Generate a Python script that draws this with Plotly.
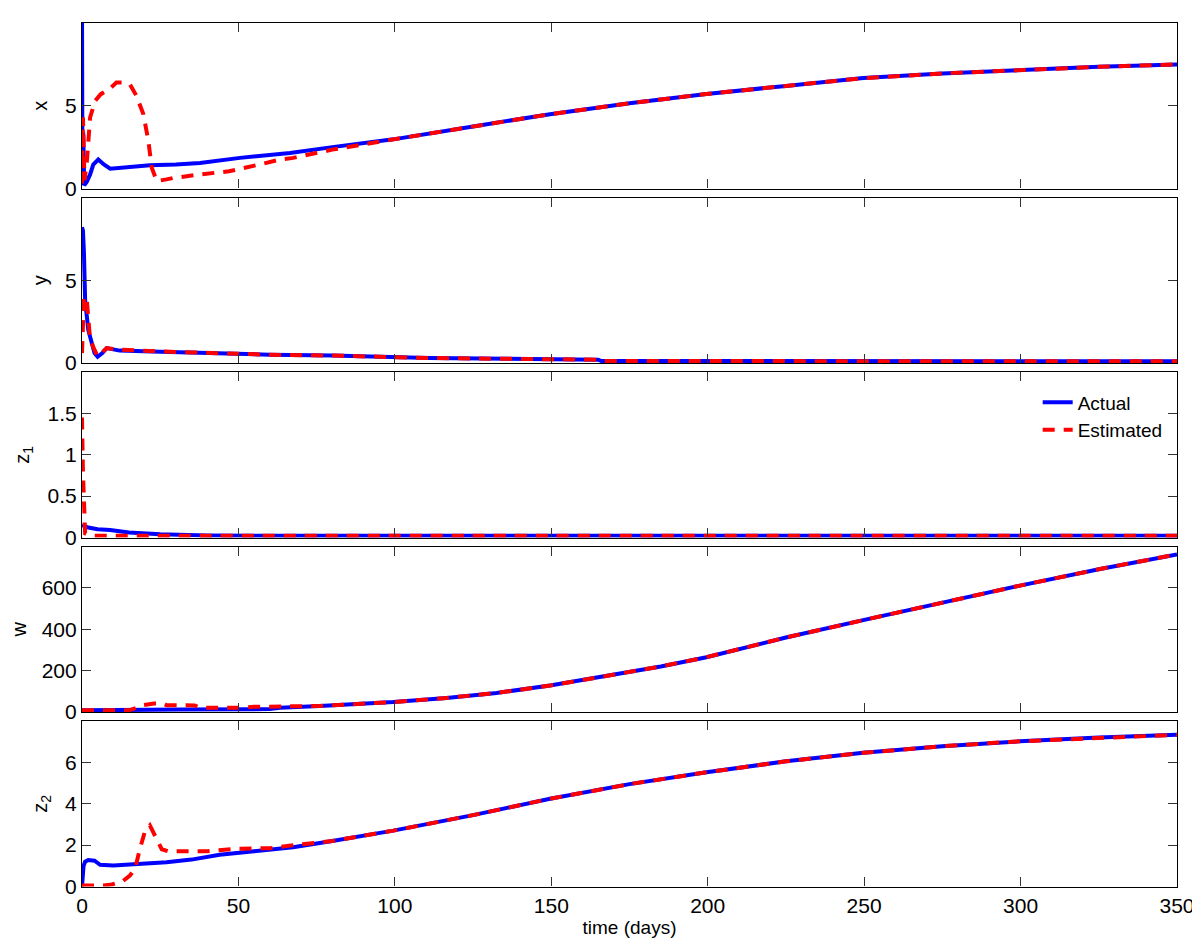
import plotly.graph_objects as go
from plotly.subplots import make_subplots

# --- datos ---
# panel x
t_x_act = [0, 0.15, 0.4, 0.7, 1.5, 2.6, 3.6, 5.2, 7, 9, 15, 21.7, 30, 37.7, 50.5, 63.3,
           66.5, 80, 99.5, 125, 149.6, 175, 199.6, 225, 249.7, 275, 299.8, 325, 350]
x_act = [11, 0.2, 3.4, 0.2, 0.4, 0.85, 1.44, 1.75, 1.45, 1.2, 1.3, 1.4, 1.45, 1.54, 1.85, 2.05,
         2.15, 2.5, 2.97, 3.75, 4.49, 5.15, 5.71, 6.2, 6.67, 6.95, 7.17, 7.35, 7.5]
t_x_est = [0, 0.3, 0.8, 1.5, 2.6, 3.6, 4.2, 6, 8.7, 11, 13, 15.3, 17.4, 19.6, 21.2, 22.3, 23.9,
           27, 29, 37.7, 47, 57, 63.3, 67.5, 80, 99.5, 125, 149.6, 175, 199.6, 225, 249.7,
           275, 299.8, 325, 350]
x_est = [0.3, 4.3, 0.5, 1.5, 4.3, 4.9, 5.3, 5.7, 6.0, 6.4, 6.4, 6.3, 5.6, 4.5, 2.9, 1.25, 0.45,
         0.55, 0.63, 0.85, 1.04, 1.46, 1.75, 1.85, 2.35, 2.97, 3.75, 4.49, 5.15, 5.71, 6.2, 6.67,
         6.95, 7.17, 7.35, 7.5]

# panel y
t_y_act = [0, 0.3, 0.6, 1.0, 2.0, 3.0, 4.0, 5.0, 6.5, 7.9, 12, 25, 40, 60, 80, 110, 111,
           165, 166, 350]
y_act = [8.2, 8.0, 6.8, 3.8, 2.0, 1.3, 0.6, 0.38, 0.6, 0.9, 0.75, 0.68, 0.6, 0.5, 0.45, 0.35,
         0.3, 0.2, 0.12, 0.1]
t_y_est = [0, 0.3, 0.6, 1.5, 2.5, 3.5, 5, 7.9, 12, 25, 40, 60, 80, 110, 111, 165, 166, 350]
y_est = [0.6, 4.0, 4.0, 3.9, 1.6, 1.0, 0.4, 0.9, 0.8, 0.7, 0.6, 0.5, 0.45, 0.35, 0.3, 0.2,
         0.12, 0.1]

# panel z1
t_z1_act = [0, 2, 5, 9, 15, 25, 40, 60, 350]
z1_act = [0.15, 0.12, 0.1, 0.09, 0.06, 0.04, 0.025, 0.02, 0.02]
t_z1_est = [0, 0.3, 1, 3, 350]
z1_est = [1.45, 0.8, 0.05, 0.02, 0.02]

# panel w
t_w_act = [0, 30, 32, 60, 63.3, 76, 99.5, 116.5, 132.5, 149.6, 169.8, 185, 199.6, 225,
           249.7, 275, 299.8, 325, 350]
w_act = [8, 8, 12, 14, 20, 29, 48, 68, 92, 128, 180, 220, 265, 360, 444, 530, 611, 690, 762]
t_w_est = [0, 15, 17.4, 19.6, 23, 26, 27, 36, 38, 50, 55, 63.3, 76, 99.5, 116.5, 132.5,
           149.6, 169.8, 185, 199.6, 225, 249.7, 275, 299.8, 325, 350]
w_est = [8, 8, 20, 33, 41, 40, 33, 32, 20, 20, 25, 25, 29, 48, 68, 92, 128, 180, 220, 265,
         360, 444, 530, 611, 690, 762]

# panel z2
t_z2_act = [0, 0.5, 1, 2, 4, 5.8, 10, 15, 20, 27, 35, 44, 55, 67.5, 80, 99.5, 125, 149.6,
            175, 199.6, 225, 249.7, 275, 299.8, 325, 350]
z2_act = [0, 1.0, 1.2, 1.28, 1.25, 1.05, 1.02, 1.05, 1.1, 1.17, 1.3, 1.53, 1.7, 1.9, 2.2,
          2.7, 3.45, 4.24, 4.95, 5.52, 6.05, 6.46, 6.78, 7.02, 7.2, 7.33]
t_z2_est = [0, 7, 9.5, 13, 15.3, 17, 18.5, 20, 21.7, 23.9, 25.5, 27.5, 40, 50, 60, 67.5, 80,
            99.5, 125, 149.6, 175, 199.6, 225, 249.7, 275, 299.8, 325, 350]
z2_est = [0.05, 0.05, 0.1, 0.25, 0.53, 0.87, 1.82, 2.6, 2.95, 2.3, 1.8, 1.7, 1.7, 1.83, 1.85,
          2.0, 2.2, 2.7, 3.45, 4.24, 4.95, 5.52, 6.05, 6.46, 6.78, 7.02, 7.2, 7.33]

panels = [
    ('x', t_x_act, x_act, t_x_est, x_est, [0, 10], [0, 5]),
    ('y', t_y_act, y_act, t_y_est, y_est, [0, 10], [0, 5]),
    ('z<sub>1</sub>', t_z1_act, z1_act, t_z1_est, z1_est, [0, 2], [0, 0.5, 1, 1.5]),
    ('w', t_w_act, w_act, t_w_est, w_est, [0, 800], [0, 200, 400, 600]),
    ('z<sub>2</sub>', t_z2_act, z2_act, t_z2_est, z2_est, [0, 8], [0, 2, 4, 6]),
]
time_ticks = [0, 50, 100, 150, 200, 250, 300, 350]

FONT = 'Liberation Sans, Arial, sans-serif'
BLUE = '#0000ff'
RED = '#ff0000'

fig = make_subplots(rows=5, cols=1, shared_xaxes=True, vertical_spacing=0.01)

# altura de cada panel y separacion (px del area de trazado)
plot_h = 864.0
panel_h = 165.5 / plot_h
gap = 9.0 / plot_h

for i, (name, ta, va, te, ve, yr, yt) in enumerate(panels):
    row = i + 1
    fig.add_trace(go.Scatter(x=ta, y=va, mode='lines', name='Actual',
                             line=dict(color=BLUE, width=4),
                             showlegend=(i == 0)), row=row, col=1)
    fig.add_trace(go.Scatter(x=te, y=ve, mode='lines', name='Estimated',
                             line=dict(color=RED, width=4, dash='12px,9px'),
                             showlegend=(i == 0)), row=row, col=1)

    top = 1 - i * (panel_h + gap)
    fig.update_yaxes(domain=[top - panel_h, top], range=yr, tickvals=yt,
                     title=dict(text=name, standoff=12, font=dict(size=20)),
                     row=row, col=1)
    fig.update_xaxes(range=[0, 350], tickvals=time_ticks,
                     showticklabels=(row == 5), row=row, col=1)

fig.update_xaxes(showline=True, linecolor='black', linewidth=1.2, mirror='ticks',
                 ticks='inside', ticklen=9, tickwidth=1.2, tickcolor='#333',
                 showgrid=False, zeroline=False, automargin=False)
fig.update_yaxes(showline=True, linecolor='black', linewidth=1.2, mirror='ticks',
                 ticks='inside', ticklen=9, tickwidth=1.2, tickcolor='#333',
                 showgrid=False, zeroline=False, automargin=False)
fig.update_xaxes(title=dict(text='time (days)', standoff=4, font=dict(size=19)), row=5, col=1)

# la pagina html añade 8px de margen al body: se compensa aqui
fig.update_layout(
    width=1200,
    height=946,
    margin=dict(l=74, r=31, t=15, b=67),
    paper_bgcolor='white',
    plot_bgcolor='white',
    font=dict(family=FONT, size=21, color='black'),
    showlegend=True,
    legend=dict(x=0.9915, xanchor='right', y=0.583, yanchor='top',
                bgcolor='rgba(0,0,0,0)', borderwidth=0,
                font=dict(size=19), tracegroupgap=0),
)

fig.write_html("out.html")
